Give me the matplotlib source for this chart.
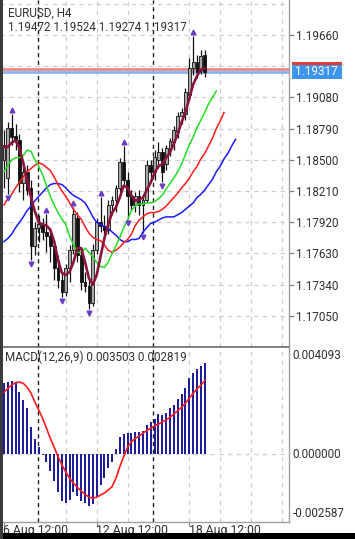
import matplotlib
matplotlib.use("Agg")
import matplotlib.pyplot as plt
import matplotlib.transforms as mtransforms
from matplotlib.patches import Rectangle
import numpy as np

plt.rcParams['font.family'] = ['Roboto', 'DejaVu Sans']

# ---------------- data ----------------
symbol_title = "EURUSD, H4"
ohlc_header = "1.19472 1.19524 1.19274 1.19317"
macd_header = "MACD(12,26,9) 0.003503 0.002819"

opens = [1.18499, 1.18332, 1.18796, 1.18722, 1.18685, 1.18285, 1.18387, 1.18239, 1.17700, 1.17867,
         1.17904, 1.17830, 1.17793, 1.17700, 1.17496, 1.17384, 1.17272, 1.17496, 1.17663, 1.17960,
         1.17616, 1.17365, 1.17328, 1.17170, 1.17663, 1.17923, 1.17886, 1.17849, 1.18081, 1.18127,
         1.18239, 1.18480, 1.18313, 1.18164, 1.18081, 1.18164, 1.18081, 1.18127, 1.18452, 1.18387,
         1.18499, 1.18573, 1.18462, 1.18592, 1.18666, 1.18759, 1.18907, 1.18926, 1.19103, 1.19353,
         1.19409, 1.19335, 1.19472]
highs = [1.18778, 1.18852, 1.18926, 1.18833, 1.18740, 1.18499, 1.18452, 1.18313, 1.17923, 1.17988,
         1.17960, 1.17997, 1.17867, 1.17756, 1.17616, 1.17458, 1.17533, 1.17710, 1.18062, 1.18016,
         1.17682, 1.17458, 1.17384, 1.17719, 1.17960, 1.18155, 1.17988, 1.18127, 1.18164, 1.18266,
         1.18517, 1.18629, 1.18387, 1.18220, 1.18201, 1.18220, 1.18174, 1.18499, 1.18499, 1.18592,
         1.18666, 1.18610, 1.18638, 1.18703, 1.18815, 1.18945, 1.18982, 1.19168, 1.19446, 1.19651,
         1.19474, 1.19521, 1.19524]
lows = [1.18239, 1.18183, 1.18638, 1.18592, 1.18201, 1.18127, 1.18174, 1.17570, 1.17616, 1.17737,
        1.17756, 1.17644, 1.17551, 1.17384, 1.17310, 1.17226, 1.17235, 1.17365, 1.17626, 1.17551,
        1.17291, 1.17272, 1.17114, 1.17142, 1.17626, 1.17830, 1.17793, 1.17812, 1.17988, 1.18016,
        1.18201, 1.18266, 1.17951, 1.18035, 1.18016, 1.17988, 1.17821, 1.18099, 1.18332, 1.18313,
        1.18424, 1.18294, 1.18406, 1.18536, 1.18592, 1.18703, 1.18833, 1.18870, 1.19056, 1.19288,
        1.19261, 1.19298, 1.19274]
closes = [1.18638, 1.18796, 1.18712, 1.18685, 1.18285, 1.18387, 1.18220, 1.17700, 1.17867, 1.17904,
          1.17830, 1.17793, 1.17700, 1.17496, 1.17384, 1.17272, 1.17496, 1.17663, 1.17997, 1.17616,
          1.17365, 1.17328, 1.17170, 1.17663, 1.17923, 1.17886, 1.17849, 1.18081, 1.18127, 1.18239,
          1.18480, 1.18313, 1.18164, 1.18081, 1.18164, 1.18081, 1.18127, 1.18452, 1.18387, 1.18527,
          1.18573, 1.18387, 1.18610, 1.18675, 1.18778, 1.18907, 1.18945, 1.19130, 1.19353, 1.19409,
          1.19316, 1.19465, 1.19317]

fast_ma = [1.1862, 1.1862, 1.1866, 1.1868, 1.1861, 1.1847, 1.1831, 1.1815, 1.1802, 1.1792,
           1.1790, 1.1789, 1.1785, 1.1774, 1.1757, 1.1745, 1.1743, 1.1746, 1.1755, 1.1768,
           1.1768, 1.1755, 1.1740, 1.1734, 1.1743, 1.1760, 1.1777, 1.1790, 1.1801, 1.1806,
           1.1815, 1.1826, 1.1824, 1.1817, 1.1812, 1.1813, 1.1815, 1.1822, 1.1829, 1.1838,
           1.1844, 1.1846, 1.1852, 1.1857, 1.1865, 1.1874, 1.1885, 1.1894, 1.1907, 1.1920,
           1.1928, 1.1934, 1.1935]

lips = [1.1839, 1.1845, 1.1850, 1.1852, 1.1852, 1.1854, 1.1859, 1.1858, 1.1850, 1.1844,
        1.1836, 1.1826, 1.1816, 1.1808, 1.1801, 1.1795, 1.1790, 1.1779, 1.1771, 1.1764,
        1.1764, 1.1768, 1.1764, 1.1760, 1.1755, 1.1751, 1.1750, 1.1755, 1.1763, 1.1770,
        1.1778, 1.1787, 1.1794, 1.1803, 1.1807, 1.1809, 1.1809, 1.1810, 1.1810, 1.1811,
        1.1814, 1.1817, 1.1823, 1.1828, 1.1833, 1.1839, 1.1846, 1.1855, 1.1864, 1.1871,
        1.1880, 1.1887, 1.1894, 1.1902, 1.1908, 1.1914]
teeth = [1.1808, 1.1814, 1.1818, 1.1824, 1.1829, 1.1834, 1.1839, 1.1842, 1.1845, 1.1847,
         1.1846, 1.1843, 1.1840, 1.1834, 1.1827, 1.1821, 1.1816, 1.1810, 1.1804, 1.1799,
         1.1795, 1.1788, 1.1782, 1.1778, 1.1776, 1.1775, 1.1771, 1.1766, 1.1764, 1.1766,
         1.1769, 1.1773, 1.1776, 1.1781, 1.1789, 1.1794, 1.1797, 1.1800, 1.1801, 1.1801,
         1.1802, 1.1804, 1.1807, 1.1811, 1.1815, 1.1819, 1.1824, 1.1828, 1.1833, 1.1839,
         1.1844, 1.1851, 1.1856, 1.1863, 1.1870, 1.1879, 1.1886, 1.1894]
jaw = [1.1774, 1.1777, 1.1781, 1.1787, 1.1792, 1.1797, 1.1803, 1.1807, 1.1812, 1.1816,
       1.1820, 1.1824, 1.1827, 1.1828, 1.1828, 1.1827, 1.1824, 1.1820, 1.1817, 1.1815,
       1.1813, 1.1810, 1.1804, 1.1797, 1.1792, 1.1790, 1.1788, 1.1786, 1.1783, 1.1780,
       1.1776, 1.1774, 1.1774, 1.1776, 1.1776, 1.1777, 1.1783, 1.1787, 1.1791, 1.1792,
       1.1794, 1.1796, 1.1797, 1.1797, 1.1797, 1.1799, 1.1801, 1.1804, 1.1807, 1.1810,
       1.1815, 1.1818, 1.1822, 1.1827, 1.1832, 1.1839, 1.1844, 1.1851, 1.1856, 1.1863,
       1.1869]

fractal_up_bars = [2, 11, 18, 25, 31, 49]
fractal_down_bars = [1, 7, 15, 22, 32, 36, 41]

macd_hist = [0.00272, 0.00277, 0.00280, 0.00277, 0.00240, 0.00208, 0.00179, 0.00106, 0.00058, 0.00027,
             -0.00001, -0.00028, -0.00064, -0.00101, -0.00143, -0.00178, -0.00186, -0.00175, -0.00143, -0.00160,
             -0.00178, -0.00186, -0.00197, -0.00191, -0.00163, -0.00119, -0.00092, -0.00054, -0.00028, 0.00019,
             0.00068, 0.00078, 0.00083, 0.00083, 0.00085, 0.00087, 0.00090, 0.00111, 0.00124, 0.00134,
             0.00155, 0.00151, 0.00160, 0.00177, 0.00189, 0.00211, 0.00231, 0.00253, 0.00292, 0.00311,
             0.00326, 0.00339, 0.003503]
macd_signal = [0.00238, 0.00253, 0.00266, 0.00275, 0.00277, 0.00272, 0.00257, 0.00234, 0.00200, 0.00170,
               0.00138, 0.00100, 0.00061, 0.00027, -0.00009, -0.00041, -0.00067, -0.00092, -0.00111, -0.00127,
               -0.00141, -0.00154, -0.00164, -0.00168, -0.00165, -0.00156, -0.00149, -0.00137, -0.00124, -0.00092,
               -0.00048, -0.00009, 0.00027, 0.00048, 0.00061, 0.00070, 0.00081, 0.00091, 0.00100, 0.00109,
               0.00116, 0.00124, 0.00132, 0.00142, 0.00155, 0.00167, 0.00180, 0.00196, 0.00215, 0.00234,
               0.00251, 0.00265, 0.002819]

bid_price = 1.19317
ask_price = 1.19345
price_grid = [1.19950, 1.19660, 1.19370, 1.19080, 1.18790, 1.18500, 1.18210, 1.17920, 1.17630, 1.17340, 1.17050]
# 1.19370 label is covered by the bid price box in the reference, so it is not labelled
price_labels = ["1.19660", "1.19080", "1.18790", "1.18500", "1.18210", "1.17920", "1.17630", "1.17340", "1.17050"]
macd_axis_values = [0.004093, 0.0, -0.002587]
macd_axis_labels = ["0.004093", "0.000000", "-0.002587"]
time_labels = ["6 Aug 12:00", "12 Aug 12:00", "18 Aug 12:00"]
time_label_bars = [0, 24, 48]
week_separator_bars = [8.7, 38.7]

# ---------------- layout ----------------
W, H = 355, 539
fig = plt.figure(figsize=(W / 100, H / 100), dpi=100)
fig.patch.set_facecolor('white')


def px_axes(x0, y0, x1, y1):
    return fig.add_axes([x0 / W, 1 - y1 / H, (x1 - x0) / W, (y1 - y0) / H])


ax = px_axes(0, 0, 289, 346.5)
axm = px_axes(0, 347.6, 289, 521.7)

XL = (-1.036, 73.83)
grid_bars = [16, 24, 32, 48, 56, 64, 72]
GRID_C = '#cdcdcd'
DASH = (0, (3.5, 3.5))
TXT = '#303030'
FS = 8.4

for a in (ax, axm):
    a.set_xlim(*XL)
    a.set_facecolor('white')
    for s in ('top', 'left'):
        a.spines[s].set_visible(False)
    a.spines['right'].set_color('#a0a0a0')
    a.spines['right'].set_linewidth(1.0)
    a.set_xticks([])
    for g in grid_bars:
        a.axvline(g, color=GRID_C, lw=0.9, ls=DASH, zorder=0.5)
    for s in week_separator_bars:
        a.axvline(s, color='#202020', lw=1.0, ls=(0, (3, 2.5)), zorder=0.8)

ax.spines['bottom'].set_color('#6a6a6a')
ax.spines['bottom'].set_linewidth(1.2)
axm.spines['bottom'].set_color('#a0a0a0')
axm.spines['bottom'].set_linewidth(1.0)

# ---------------- main panel ----------------
ax.set_ylim(1.16766, 1.19985)
for p in price_grid:
    ax.axhline(p, color=GRID_C, lw=0.9, ls=DASH, zorder=0.5)

ax.yaxis.tick_right()
ax.set_yticks([float(s) for s in price_labels])
ax.set_yticklabels(price_labels)
ax.tick_params(axis='y', length=3.5, width=0.9, color='#808080', pad=1.5,
               labelsize=FS, labelcolor=TXT)

# bid / ask lines
ax.axhline(ask_price, color='#f08a86', lw=2.0, zorder=1.5)
ax.axhline(bid_price, color='#86b6f2', lw=2.0, zorder=1.5)

idx = np.arange(len(closes))
o = np.array(opens); h = np.array(highs); l = np.array(lows); c = np.array(closes)
ax.vlines(idx, l, h, color='#111111', lw=0.9, zorder=3)
bull = c >= o
body_bottom = np.minimum(o, c)
body_h = np.maximum(np.abs(c - o), 0.00003)
ax.bar(idx, body_h, bottom=body_bottom, width=0.72,
       color=np.where(bull, '#a9a9a9', '#111111'), edgecolor='#111111', linewidth=0.6, zorder=3.2)

# alligator + fast MA
ax.plot(np.arange(len(jaw)), jaw, color='#1a1aff', lw=1.1, zorder=4)
ax.plot(np.arange(len(teeth)), teeth, color='#ff1a1a', lw=1.1, zorder=4)
ax.plot(np.arange(len(lips)), lips, color='#22dd22', lw=1.1, zorder=4)
ax.plot(idx, fast_ma, color='#8a1538', lw=1.9, zorder=4.5)

# fractals
up_tr = mtransforms.offset_copy(ax.transData, fig=fig, x=0, y=4.0, units='dots')
dn_tr = mtransforms.offset_copy(ax.transData, fig=fig, x=0, y=-4.0, units='dots')
ax.plot(fractal_up_bars, h[fractal_up_bars], ls='none', marker='^', ms=3.4,
        color='#6a3cc6', transform=up_tr, zorder=5, clip_on=False)
ax.plot(fractal_down_bars, l[fractal_down_bars], ls='none', marker='v', ms=3.4,
        color='#6a3cc6', transform=dn_tr, zorder=5, clip_on=False)

# price boxes (ask box mostly hidden behind the bid box)
box_x0 = 291.5 / W
box_w = 50 / W


def price_to_figy(p):
    return fig.transFigure.inverted().transform(ax.transData.transform((0, p)))[1]


fig.patches.append(Rectangle((box_x0, price_to_figy(ask_price) - 7 / H), box_w, 14 / H,
                             transform=fig.transFigure, facecolor='#e53935',
                             edgecolor='none', zorder=9))
fig.patches.append(Rectangle((box_x0, price_to_figy(bid_price) - 7 / H), box_w, 14 / H,
                             transform=fig.transFigure, facecolor='#3d95f0',
                             edgecolor='none', zorder=10))
fig.text(box_x0 + 25 / W, price_to_figy(bid_price), "1.19317", ha='center', va='center',
         fontsize=FS, color='white', zorder=11)

# headers
fig.text(8 / W, 1 - 13.5 / H, symbol_title, ha='left', va='center', fontsize=FS, color=TXT)
fig.text(8 / W, 1 - 27.5 / H, ohlc_header, ha='left', va='center', fontsize=FS, color=TXT)

# ---------------- MACD panel ----------------
axm.set_ylim(macd_axis_values[2], macd_axis_values[0])
axm.axhline(0.0, color=GRID_C, lw=0.9, ls=DASH, zorder=0.5)
midx = np.arange(len(macd_hist))
axm.bar(midx, macd_hist, width=0.52, color='#1e1e9a', zorder=3)
axm.plot(np.arange(len(macd_signal)), macd_signal, color='#ff1a1a', lw=1.2, zorder=4)
axm.set_yticks([])

lab_tr = mtransforms.offset_copy(axm.get_yaxis_transform(), fig=fig, x=3.5, y=0, units='dots')
axm.text(1.0, macd_axis_values[0], macd_axis_labels[0], transform=mtransforms.offset_copy(
    axm.get_yaxis_transform(), fig=fig, x=3.5, y=-1.5, units='dots'),
    ha='left', va='top', fontsize=FS, color=TXT, clip_on=False)
axm.text(1.0, macd_axis_values[1], macd_axis_labels[1], transform=lab_tr,
         ha='left', va='center', fontsize=FS, color=TXT, clip_on=False)
axm.text(1.0, macd_axis_values[2], macd_axis_labels[2], transform=mtransforms.offset_copy(
    axm.get_yaxis_transform(), fig=fig, x=3.5, y=1.5, units='dots'),
    ha='left', va='bottom', fontsize=FS, color=TXT, clip_on=False)

fig.text(5 / W, 1 - 357 / H, macd_header, ha='left', va='center', fontsize=FS, color=TXT)

# time axis
tl_tr = mtransforms.offset_copy(axm.get_xaxis_transform(), fig=fig, x=-0.5, y=-2.5, units='dots')
for b, t in zip(time_label_bars, time_labels):
    axm.text(b, 0.0, t, transform=tl_tr, ha='left', va='top', fontsize=FS + 0.4,
             color=TXT, clip_on=False)
axm.set_xticks(time_label_bars)
axm.set_xticklabels([])
axm.tick_params(axis='x', length=3, width=0.8, color='#808080')

# screen frame (phone navigation bar / edge)
fig.patches.append(Rectangle((0, 0), 1, 6 / H, transform=fig.transFigure,
                             facecolor='black', edgecolor='none', zorder=20))
fig.patches.append(Rectangle((0, 0), 2.5 / W, 1, transform=fig.transFigure,
                             facecolor='#3a3a3a', edgecolor='none', zorder=20))

fig.savefig('out.png', dpi=100, facecolor='white')
